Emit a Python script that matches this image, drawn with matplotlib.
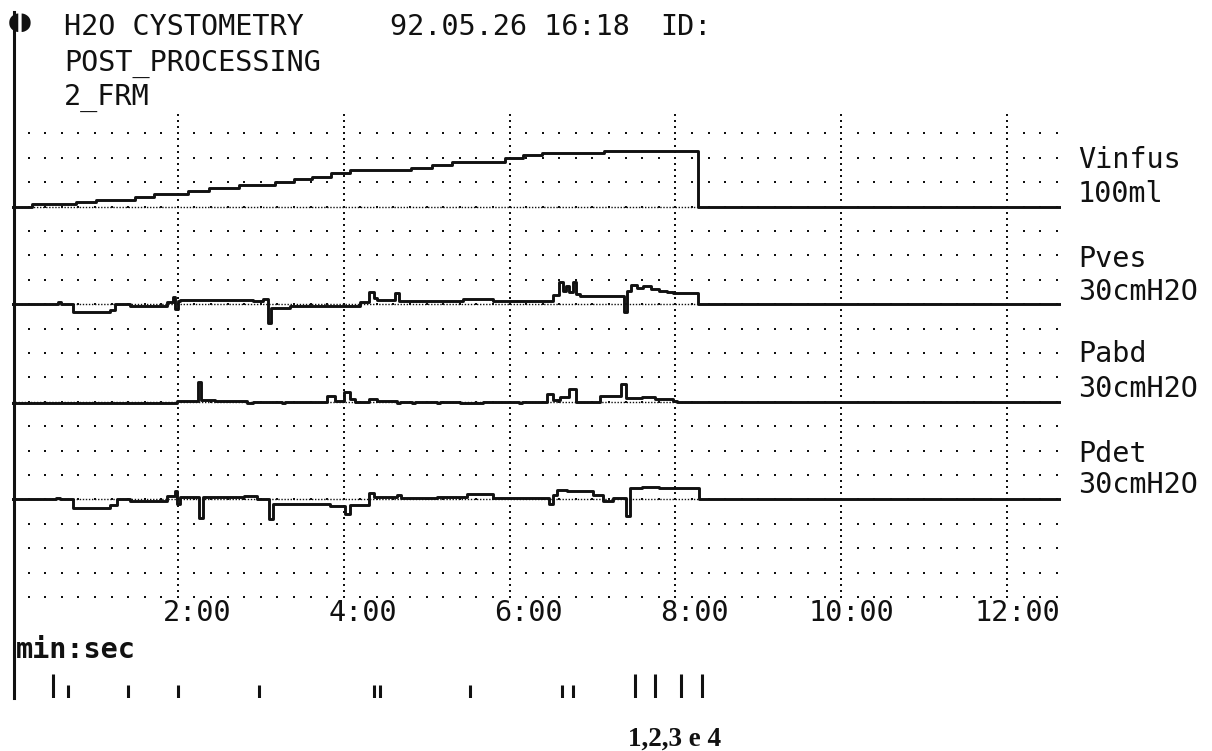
import matplotlib.pyplot as plt
from matplotlib.lines import Line2D
import numpy as np

# traces, time in minutes (step-wise)
vinfus_t = [0, 0.24, 0.77, 1.01, 1.48, 1.71, 2.12, 2.38, 2.74, 3.17, 3.40, 3.62, 3.85,
            4.07, 4.81, 5.07, 5.31, 5.95, 6.16, 6.39, 7.14, 8.27, 12.65]
vinfus_ml = [0, 2.8, 4.8, 6.9, 9.9, 13, 16, 19, 22, 25, 28, 30, 34.5,
             37.6, 39.7, 42.7, 45.8, 49.9, 53, 55, 57, 0, 0]

pves_t = [0, 0.55, 0.59, 0.74, 1.18, 1.24, 1.42, 1.87, 1.94, 1.97, 2.00, 2.03, 2.91,
          3.03, 3.09, 3.12, 3.35, 4.20, 4.30, 4.36, 4.40, 4.62, 4.67, 5.44, 5.80,
          6.53, 6.60, 6.64, 6.68, 6.72, 6.76, 6.80, 6.85, 7.38, 7.42, 7.46, 7.54,
          7.61, 7.70, 7.80, 7.90, 7.97, 8.27, 12.65]
pves_cm = [0, 0.6, 0, -2.5, -1.7, 0, -0.7, 0.6, 2.3, -1.5, 1.0, 1.35, 1.0,
           1.6, -5.8, -1.2, -0.5, 0.8, 3.9, 2.0, 1.4, 3.3, 1.1, 1.7, 1.0,
           2.9, 6.9, 4.2, 5.5, 3.8, 6.9, 3.0, 2.5, -2.3, 4.0, 5.9, 5.0,
           5.6, 4.6, 4.0, 3.6, 3.3, 0, 0]

pabd_t = [0, 1.99, 2.24, 2.28, 2.45, 2.83, 2.91, 3.25, 3.29, 3.80, 3.90, 4.00, 4.07,
          4.14, 4.30, 4.40, 4.64, 4.68, 4.82, 4.86, 5.12, 5.16, 5.40, 5.68, 6.11,
          6.15, 6.45, 6.53, 6.61, 6.72, 6.80, 7.09, 7.35, 7.40, 7.60, 7.75, 7.97,
          8.02, 12.65]
pabd_cm = [-0.3, 0.3, 6.1, 0.6, 0.2, -0.5, 0, -0.4, 0, 1.8, 0.3, 3.1, 1.0,
           0, 1.0, 0.2, -0.4, 0, -0.4, 0, -0.4, 0, -0.4, 0, -0.5,
           0, 2.4, 0.6, 1.5, 3.9, 0, 1.8, 5.4, 1.2, 1.6, 1.0, 0.3,
           0, 0]

pdet_t = [0, 0.53, 0.58, 0.74, 1.18, 1.27, 1.42, 1.87, 1.96, 1.99, 2.03, 2.25, 2.30,
          2.80, 2.96, 3.10, 3.15, 3.84, 4.02, 4.07, 4.30, 4.36, 4.64, 4.69, 5.13,
          5.49, 5.80, 6.47, 6.53, 6.57, 6.69, 7.01, 7.13, 7.25, 7.40, 7.45, 7.60,
          7.80, 8.00, 8.29, 12.65]
pdet_cm = [0, 0.4, 0, -2.6, -1.8, 0, -0.5, 1.0, 2.5, -1.5, 0.8, -5.6, 0.8,
           1.0, 0, -6.1, -1.5, -2.0, -4.5, -1.8, 2.0, 0.8, 1.5, 0.3, 0.6,
           1.8, 0.3, -1.5, 1.5, 2.9, 2.6, 1.2, -0.6, 0.3, -5.1, 3.5, 3.8,
           3.4, 3.6, 0, 0]

stop_t = 8.27  # end of recording, zero reference drawn up to here

channel_names = ["Vinfus", "Pves", "Pabd", "Pdet"]
channel_units = ["100ml", "30cmH2O", "30cmH2O", "30cmH2O"]
full_scale = [100, 30, 30, 30]  # value over 4 grid divisions

tick_minutes = [2, 4, 6, 8, 10, 12]
tick_labels = ["2:00", "4:00", "6:00", "8:00", "10:00", "12:00"]

event_t = [0.49, 0.68, 1.40, 2.00, 2.98, 4.36, 4.44, 5.52, 6.63, 6.77, 7.51, 7.76, 8.07, 8.32]
event_major = [1, 0, 0, 0, 0, 0, 0, 0, 0, 0, 1, 1, 1, 1]

W, H = 1212, 751
T_END = 12.65
DIVS = 20
ink = "#111111"
mono = "DejaVu Sans Mono"
FS = 20.5


def fx(px):
    return px / W


def fy(py):
    return 1 - py / H


fig = plt.figure(figsize=(W / 100, H / 100), dpi=100)
fig.patch.set_facecolor("white")

rect = [fx(12), fy(597), fx(1061) - fx(12), fy(109) - fy(597)]
base = fig.add_axes(rect)
base.set_xlim(0, T_END)
base.set_ylim(0, DIVS)
base.axis("off")

# dotted grid: sparse dots on every division row, dense dots on the 2-min lines
row_x = np.arange(0.2, T_END, 0.2)
for d in range(DIVS):
    base.plot(row_x, np.full_like(row_x, d), ls="none", marker="s", ms=1.8, mew=0, color=ink)
col_y = np.arange(0, DIVS - 0.2, 0.25)
for m in tick_minutes:
    base.plot(np.full_like(col_y, m), col_y, ls="none", marker="s", ms=1.8, mew=0, color=ink)

traces = [(vinfus_t, vinfus_ml), (pves_t, pves_cm), (pabd_t, pabd_cm), (pdet_t, pdet_cm)]
for i, (t, v) in enumerate(traces):
    ax = fig.add_axes(rect, sharex=base)
    ax.axis("off")
    base_div = 16 - 4 * i
    per_div = full_scale[i] / 4
    ax.set_ylim(-base_div * per_div, (DIVS - base_div) * per_div)
    ax.hlines(0, 0, stop_t, colors=ink, lw=1.0, linestyles=(0, (1, 1.2)))
    ax.plot(t, v, drawstyle="steps-post", color=ink, lw=2.1)

# channel labels on the right
label_y = [(168, 202), (267, 300), (362, 397), (462, 493)]
for name, unit, (y1, y2) in zip(channel_names, channel_units, label_y):
    fig.text(fx(1078), fy(y1), name, fontsize=FS, family=mono, color=ink, va="baseline")
    fig.text(fx(1078), fy(y2), unit, fontsize=FS, family=mono, color=ink, va="baseline")

# time axis labels
for m, lab in zip(tick_minutes, tick_labels):
    base.text(m + 0.64, -0.1, lab, fontsize=FS, family=mono, color=ink,
              ha="right", va="top")
fig.text(fx(16), fy(658), "min:sec", fontsize=FS, family=mono, fontweight="bold",
         color=ink, va="baseline")

# event marks
ev = fig.add_axes([fx(12), fy(698), fx(1061) - fx(12), fy(674) - fy(698)], sharex=base)
ev.axis("off")
ev.set_ylim(0, 1)
for t, major in zip(event_t, event_major):
    ev.vlines(t, 0, 1.0 if major else 0.55, colors=ink, lw=2.2)
fig.text(fx(675), fy(746), "1,2,3 e 4", fontsize=19.5, family="Liberation Serif",
         fontweight="bold", color=ink, ha="center", va="baseline")

# header
fig.text(fx(64), fy(35), "H2O CYSTOMETRY", fontsize=FS, family=mono, color=ink, va="baseline")
fig.text(fx(390), fy(35), "92.05.26 16:18", fontsize=FS, family=mono, color=ink, va="baseline")
fig.text(fx(660), fy(35), "ID:", fontsize=FS, family=mono, color=ink, va="baseline")
fig.text(fx(64), fy(71), "POST_PROCESSING", fontsize=FS, family=mono, color=ink, va="baseline")
fig.text(fx(64), fy(105), "2_FRM", fontsize=FS, family=mono, color=ink, va="baseline")
fig.text(fx(8), fy(22), "\u25d6\u25d7", fontsize=17, family="DejaVu Sans", color=ink, va="center")

# left border of the printout
fig.add_artist(Line2D([fx(14), fx(14)], [fy(12), fy(698)], color=ink, lw=2.2))

fig.savefig("out.png", dpi=100, facecolor="white")
